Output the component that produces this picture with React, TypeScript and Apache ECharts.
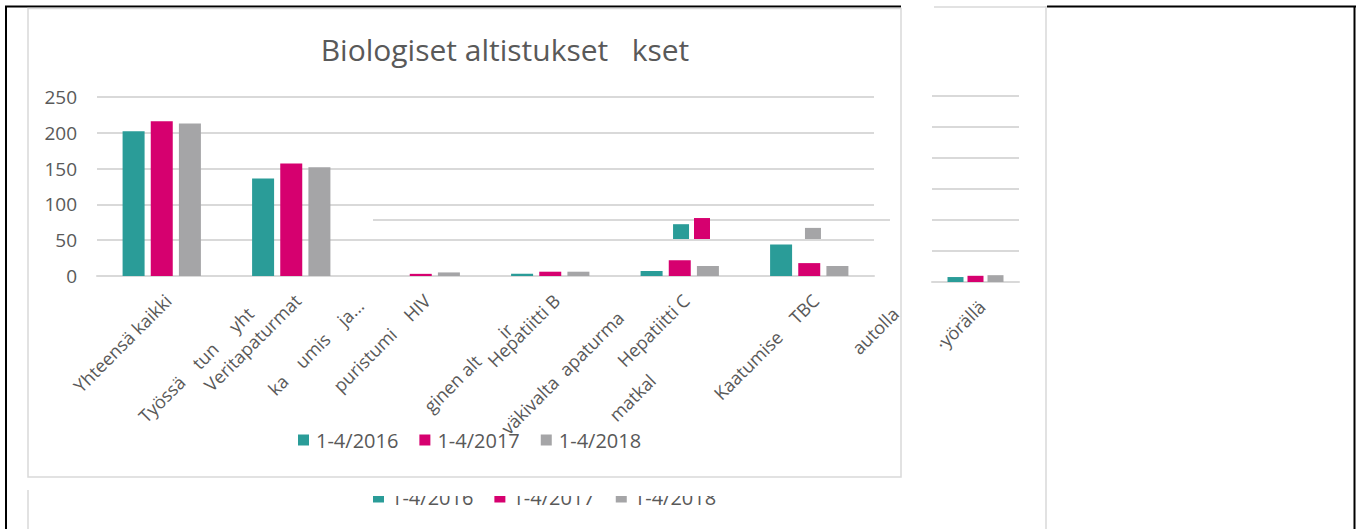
import React, { useEffect, useRef } from "react";
import * as echarts from "echarts";

const seriesNames = ["1-4/2016", "1-4/2017", "1-4/2018"];
const colors = ["#2A9C98", "#D6006F", "#A5A5A7"];

// main chart
const categories = ["Yhteensä kaikki", "Veritapaturmat", "puristumi    HIV", "Hepatiitti B", "Hepatiitti C", "Kaatumise    TBC"];
const v2016 = [202, 136, 0, 3, 7, 44];
const v2017 = [216, 157, 3, 6, 22, 18];
const v2018 = [213, 152, 5, 6, 14, 14];
const yMin = 0;
const yMax = 250;
const yStep = 50;

// overlapping fragment of another chart
const overlayCategories = ["", ""];
const ov2016 = [24, null];
const ov2017 = [34, null];
const ov2018 = [null, 18];

// side panel fragment
const sideCategories = ["·yörällä"];
const side2016 = [8];
const side2017 = [10];
const side2018 = [11];
const sideMax = 300;
const sideStep = 50;

const title = "Biologiset altistukset   kset";

// fragment labels of the overlapping chart
const fragmentTexts = ["Työssä    tun     yht", "ka    umis    ja...", "ginen alt       ir", "väkivalta  apaturma", "matkal", "autolla"];
const fragmentPos = [
  [244, 304],
  [354, 296],
  [503, 320],
  [614, 308],
  [646, 371],
  [889, 304],
];

const FONT = "'Open Sans', sans-serif";
const TXT = "#595959";
const GRID = "#D9D9D9";

export default function App() {
  const ref = useRef<HTMLDivElement>(null);
  useEffect(() => {
    if (!ref.current) return;
    const chart = echarts.init(ref.current, null, { renderer: "svg" });
    const mk = (name: string, data: any[], color: string, xi: number, yi: number, bw: number, gap: string) => ({
      type: "bar",
      name,
      data,
      xAxisIndex: xi,
      yAxisIndex: yi,
      barWidth: bw,
      barGap: gap,
      itemStyle: { color },
      silent: true,
    });
    const graphics: any[] = [];
    const line = (x1: number, y1: number, x2: number, y2: number, stroke: string, lw: number, z = 0) =>
      graphics.push({ type: "line", shape: { x1, y1, x2, y2 }, style: { stroke, lineWidth: lw }, z, silent: true });
    // frames
    line(5, 6.5, 901, 6.5, "#000", 2);
    line(1047, 6.5, 1356, 6.5, "#000", 2);
    line(934, 7, 1046, 7, GRID, 1.5);
    line(6, 6, 6, 529, "#000", 2);
    line(1354.5, 6, 1354.5, 529, "#000", 2);
    line(1046, 6, 1046, 529, GRID, 1.5);
    line(28, 490, 28, 529, GRID, 1.5);
    graphics.push({ type: "rect", shape: { x: 28, y: 8.5, width: 873, height: 468.5 }, style: { fill: "none", stroke: GRID, lineWidth: 1.5 }, silent: true });
    line(373, 220, 890, 220, GRID, 2);
    fragmentTexts.forEach((t, i) => {
      graphics.push({
        type: "text",
        x: fragmentPos[i][0],
        y: fragmentPos[i][1],
        rotation: Math.PI / 4,
        style: { text: t, fill: TXT, font: `18px ${FONT}`, align: "right", verticalAlign: "top" },
        silent: true,
      });
    });
    // clip of second legend (top part hidden)
    graphics.push({ type: "rect", shape: { x: 340, y: 479, width: 420, height: 17 }, style: { fill: "#fff" }, z: 100, silent: true });

    chart.setOption({
      animation: false,
      textStyle: { fontFamily: FONT },
      title: {
        text: title,
        left: 500,
        textAlign: "center",
        top: 29,
        textStyle: { fontFamily: FONT, fontSize: 30, fontWeight: "normal", color: TXT },
      },
      legend: [
        {
          data: seriesNames,
          left: 298,
          top: 430,
          padding: 0,
          itemWidth: 11,
          itemHeight: 11,
          itemGap: 21,
          icon: "rect",
          textStyle: { fontFamily: FONT, fontSize: 20, color: TXT, padding: [0, 0, 0, 2] },
        },
        {
          data: seriesNames,
          left: 373,
          top: 487,
          padding: 0,
          itemWidth: 11,
          itemHeight: 11,
          itemGap: 21,
          icon: "rect",
          textStyle: { fontFamily: FONT, fontSize: 20, color: TXT, padding: [0, 0, 0, 2] },
        },
      ],
      grid: [
        { left: 97, top: 97, width: 777, height: 179 },
        { left: 657, top: 54, width: 180, height: 185 },
        { left: 932, top: 96, width: 87, height: 186 },
      ],
      xAxis: [
        {
          type: "category",
          gridIndex: 0,
          data: categories,
          axisTick: { show: false },
          axisLine: { show: true, lineStyle: { color: GRID, width: 2 } },
          axisLabel: { interval: 0, rotate: 45, fontSize: 18, color: TXT, fontFamily: FONT, margin: 15, verticalAlign: "top", align: "right" },
        },
        { type: "category", gridIndex: 1, data: overlayCategories, show: false },
        {
          type: "category",
          gridIndex: 2,
          data: sideCategories,
          axisTick: { show: false },
          axisLine: { show: true, lineStyle: { color: GRID, width: 2 } },
          axisLabel: { interval: 0, rotate: 45, fontSize: 18, color: TXT, fontFamily: FONT, margin: 15, verticalAlign: "top", align: "right" },
        },
      ],
      yAxis: [
        {
          type: "value",
          gridIndex: 0,
          min: yMin,
          max: yMax,
          interval: yStep,
          axisLine: { show: false },
          axisTick: { show: false },
          axisLabel: { fontSize: 19, color: TXT, fontFamily: FONT, margin: 20 },
          splitLine: { lineStyle: { color: GRID, width: 2 } },
        },
        { type: "value", gridIndex: 1, min: 0, max: sideMax, show: false, splitLine: { show: false } },
        {
          type: "value",
          gridIndex: 2,
          min: 0,
          max: sideMax,
          interval: sideStep,
          axisLine: { show: false },
          axisTick: { show: false },
          axisLabel: { show: false },
          splitLine: { lineStyle: { color: GRID, width: 2 } },
        },
      ],
      series: [
        mk(seriesNames[0], v2016, colors[0], 0, 0, 22, "28%"),
        mk(seriesNames[1], v2017, colors[1], 0, 0, 22, "28%"),
        mk(seriesNames[2], v2018, colors[2], 0, 0, 22, "28%"),
        mk(seriesNames[0], ov2016, colors[0], 1, 1, 16, "31%"),
        mk(seriesNames[1], ov2017, colors[1], 1, 1, 16, "31%"),
        mk(seriesNames[2], ov2018, colors[2], 1, 1, 16, "31%"),
        mk(seriesNames[0], side2016, colors[0], 2, 2, 16, "25%"),
        mk(seriesNames[1], side2017, colors[1], 2, 2, 16, "25%"),
        mk(seriesNames[2], side2018, colors[2], 2, 2, 16, "25%"),
      ],
      graphic: { elements: graphics },
    });
    return () => chart.dispose();
  }, []);
  return <div ref={ref} style={{ position: "fixed", left: 0, top: 0, width: 1360, height: 529, background: "#fff" }} />;
}
